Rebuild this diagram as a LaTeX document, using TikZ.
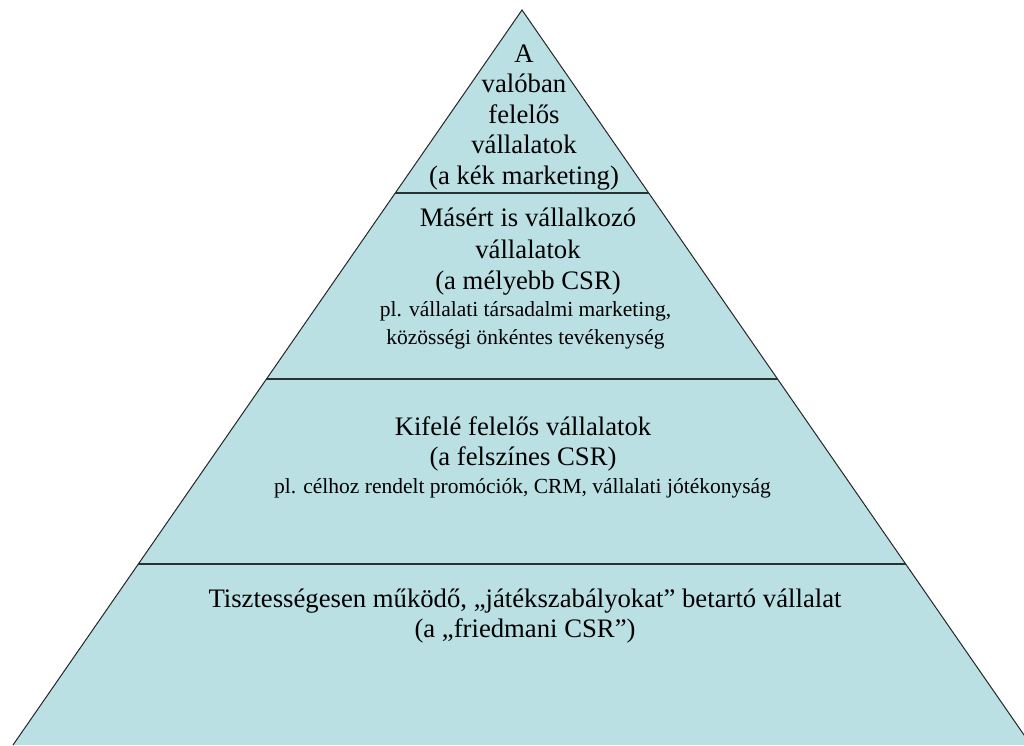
\documentclass[tikz,border=0pt]{standalone}
\usepackage{fontspec}
\setmainfont{Liberation Serif}
\usetikzlibrary{calc}
\definecolor{pyrfill}{RGB}{186,224,228}
\definecolor{divline}{RGB}{40,50,50}
\begin{document}
\begin{tikzpicture}[x=1pt,y=-1pt,
  big/.style={anchor=base,inner sep=0pt,font=\fontsize{26.7}{31}\selectfont},
  small/.style={anchor=base,inner sep=0pt,font=\fontsize{21.5}{26}\selectfont},
  divider/.style={draw=divline,line width=2.4pt},
  edge/.style={draw=black!85,line width=1pt}]
\useasboundingbox (0,0) rectangle (1024,745);
\coordinate (apex) at (522,10);
\coordinate (bl) at (13,745);
\coordinate (br) at (1031,745);
\fill[pyrfill] (apex) -- (bl) -- (br) -- cycle;
\draw[edge] (bl) -- (apex) -- (br);
% dividers
\coordinate (d1l) at ($(apex)!0.2490!(bl)$);
\coordinate (d1r) at ($(apex)!0.2490!(br)$);
\coordinate (d2l) at ($(apex)!0.5020!(bl)$);
\coordinate (d2r) at ($(apex)!0.5020!(br)$);
\coordinate (d3l) at ($(apex)!0.7537!(bl)$);
\coordinate (d3r) at ($(apex)!0.7537!(br)$);
\draw[divider] (d1l) -- (d1r);
\draw[divider] (d2l) -- (d2r);
\draw[divider] (d3l) -- (d3r);
% level 1
\node[big] (t1) at (524,62) {A};
\node[big] (t2) at (524,92.5) {valóban};
\node[big] (t3) at (524,123) {felelős};
\node[big] (t4) at (524,153.5) {vállalatok};
\node[big] (t5) at (524,184) {(a kék marketing)};
% level 2
\node[big] (m1) at (528,226.7) {Másért is vállalkozó};
\node[big] (m2) at (528,258) {vállalatok};
\node[big] (m3) at (528,289) {(a mélyebb CSR)};
\node[small] (m4) at (525.5,316.7) {pl. vállalati társadalmi marketing,};
\node[small] (m5) at (525.5,344) {közösségi önkéntes tevékenység};
% level 3
\node[big] (k1) at (523,435) {Kifelé felelős vállalatok};
\node[big] (k2) at (523,465) {(a felszínes CSR)};
\node[small] (k3) at (522.5,493.3) {pl. célhoz rendelt promóciók, CRM, vállalati jótékonyság};
% level 4
\node[big] (b1) at (525,607) {Tisztességesen működő, „játékszabályokat” betartó vállalat};
\node[big] (b2) at (525,637) {(a „friedmani CSR”)};
\end{tikzpicture}
\end{document}
